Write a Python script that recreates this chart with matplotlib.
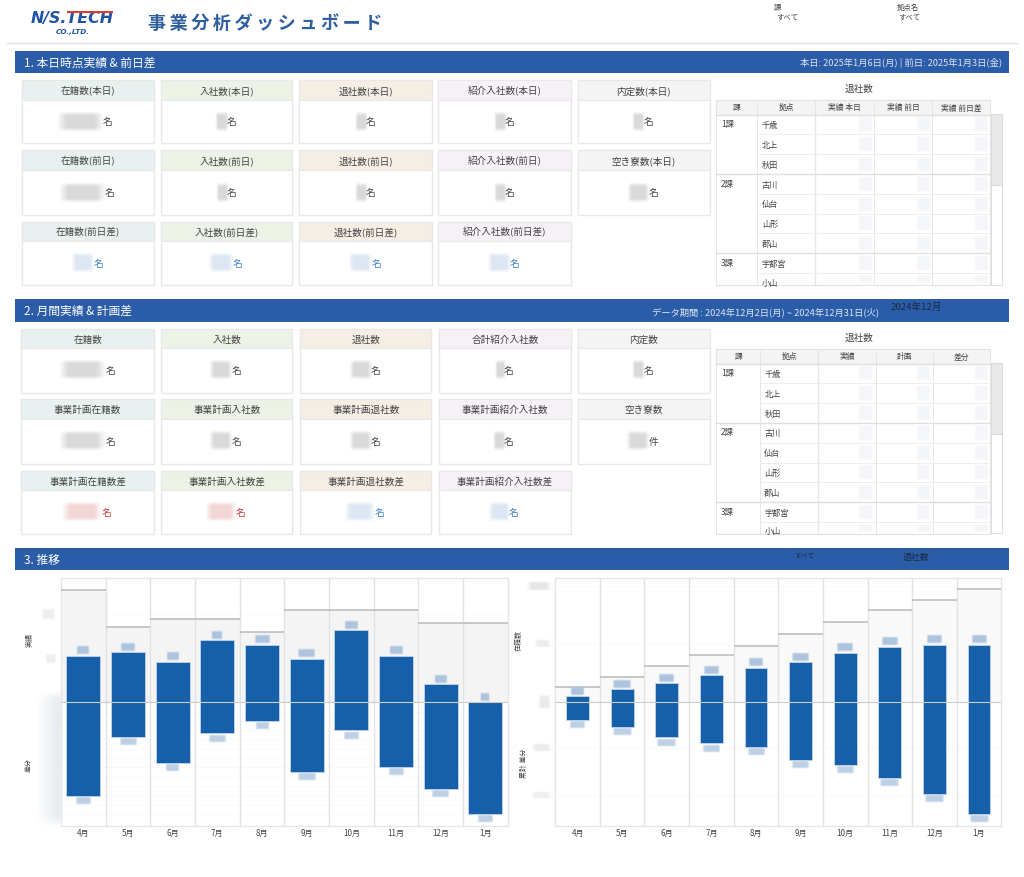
import numpy as np
import matplotlib
matplotlib.use('Agg')
import matplotlib.pyplot as plt
from matplotlib.colors import to_rgb
from matplotlib.patches import Rectangle

plt.rcParams['font.family'] = ['Noto Sans CJK JP', 'DejaVu Sans']

# chart data (the axis labels are blurred, so the unit is arbitrary)
months = ['4月', '5月', '6月', '7月', '8月', '9月', '10月', '11月', '12月', '1月']
left_top = [46.7, 50, 40.7, 62, 57.3, 43.7, 72, 46.7, 18, 0]
left_bottom = [-93.3, -34.7, -60.3, -31, -18.7, -69.3, -28, -64.7, -86.7, -111.7]
left_plan = [112.3, 75, 83.7, 83.7, 70.7, 92.3, 92.3, 92.3, 79.3, 79.3]
right_top = [6, 13, 19, 27, 34.3, 40, 49.3, 55.3, 57.3, 57.3]
right_bottom = [-17.3, -24.3, -35, -41, -44.3, -57.7, -62.7, -75.3, -91.3, -111.7]
right_plan = [15, 25, 36.3, 47.3, 56, 68.3, 80, 92.3, 102.7, 113.3]

left_top_w = [12, 14, 12, 10, 15, 17, 13, 13, 12, 8]
left_bot_w = [15, 17, 13, 17, 13, 18, 15, 15, 17, 15]
right_top_w = [13, 18, 15, 15, 14, 17, 16, 16, 15, 15]
right_bot_w = [15, 19, 19, 17, 17, 17, 17, 19, 19, 19]

# card titles
s1_rows = [
    ['在籍数(本日)', '入社数(本日)', '退社数(本日)', '紹介入社数(本日)', '内定数(本日)'],
    ['在籍数(前日)', '入社数(前日)', '退社数(前日)', '紹介入社数(前日)', '空き寮数(本日)'],
    ['在籍数(前日差)', '入社数(前日差)', '退社数(前日差)', '紹介入社数(前日差)'],
]
s2_rows = [
    ['在籍数', '入社数', '退社数', '合計紹介入社数', '内定数'],
    ['事業計画在籍数', '事業計画入社数', '事業計画退社数', '事業計画紹介入社数', '空き寮数'],
    ['事業計画在籍数差', '事業計画入社数差', '事業計画退社数差', '事業計画紹介入社数差'],
]
groups = ['1課', '2課', '3課']
sites = ['千歳', '北上', '秋田', '古川', '仙台', '山形', '郡山', '宇都宮', '小山']
s1_cols = ['課', '拠点', '実績 本日', '実績 前日', '実績 前日差']
s2_cols = ['課', '拠点', '実績', '計画', '差分']

W, H = 1024, 878
fig = plt.figure(figsize=(W / 100, H / 100), dpi=100, facecolor='white')
page = fig.add_axes([0, 0, 1, 1])
page.set_xlim(0, W)
page.set_ylim(H, 0)
page.axis('off')
page.set_autoscale_on(False)

BAND = '#2b5ca8'
BORDER = '#e8e8e8'
INK = '#444444'
HEADS = ['#e8f1f0', '#edf2e7', '#f5eee5', '#f6f1f6', '#f4f4f4']
GREY_BLUR = '#d9d9d9'
BLUE_BLUR = '#dde7f3'
RED_BLUR = '#f3d6d6'
BLUE_TXT = '#3d7fc4'
RED_TXT = '#c43c3c'


def blur(ax, x0, x1, y0, y1, color, z=3, alpha=1.0, soft=0.22, soft_y=None):
    # soft edged box standing in for a masked number
    n = 24
    t = np.linspace(0, 1, n)
    ramp_x = np.clip(np.minimum(t, 1 - t) / soft, 0, 1)
    ramp_y = np.clip(np.minimum(t, 1 - t) / (soft_y or soft), 0, 1)
    img = np.ones((n, n, 4))
    img[..., :3] = to_rgb(color)
    img[..., 3] = np.outer(ramp_y, ramp_x) * alpha
    ax.imshow(img, extent=(x0, x1, y1, y0), aspect='auto', interpolation='bilinear', zorder=z)


def rect(x0, y0, x1, y1, fc='none', ec='none', lw=0.8, z=1):
    page.add_patch(Rectangle((x0, y0), x1 - x0, y1 - y0, fc=fc, ec=ec, lw=lw, zorder=z))


def band(y0, y1, title):
    rect(14.7, y0, 1009.3, y1, fc=BAND, z=1)
    page.text(24.3, (y0 + y1) / 2 + 3.7, title, color='white', fontsize=8.5, va='baseline', ha='left', zorder=5)


def card(x0, x1, y0, yh, y1, title, head, unit_x, blur_w, blur_h=15, kind='grey', unit='名'):
    rect(x0, y0, x1, y1, fc='white', ec=BORDER, lw=1.0)
    rect(x0, y0, x1, yh, fc=head, ec=BORDER, lw=0.8, z=2)
    # baseline so that titles with brackets sit level with the others
    page.text((x0 + x1) / 2, (y0 + yh) / 2 + 3.2, title, color=INK, fontsize=6.9, ha='center', va='baseline', zorder=5)
    yc = (yh + y1) / 2 - 0.5
    col = {'grey': GREY_BLUR, 'blue': BLUE_BLUR, 'red': RED_BLUR}[kind]
    txt = {'grey': INK, 'blue': BLUE_TXT, 'red': RED_TXT}[kind]
    blur(page, unit_x - 6.5 - blur_w, unit_x - 3.5, yc - blur_h / 2 - 3, yc + blur_h / 2 + 3, col, soft=0.2)
    page.text(unit_x, yc, unit, color=txt, fontsize=7, ha='center', va='center', zorder=5)


# header
page.plot([7, 1017], [44.3, 44.3], color='#e0e0e0', lw=1)
page.text(31, 18.5, 'N/S.TECH', color='#1f55a6', fontsize=11.4, fontweight='bold', style='italic',
          family=['DejaVu Sans'], ha='left', va='center', zorder=4)
page.add_patch(Rectangle((67, 11.5), 46, 2.5, fc='#e2392d', ec='none', zorder=5))
page.text(56, 32, 'CO.,LTD.', color='#1f55a6', fontsize=5.2, fontweight='bold', style='italic',
          family=['DejaVu Sans'], ha='left', va='center')
page.text(148, 23.5, '\u2009'.join('事業分析ダッシュボード'), color='#2f5f9e', fontsize=13, fontweight='bold',
          ha='left', va='center')
page.text(774, 8, '課', color=INK, fontsize=5.3, ha='left', va='center')
page.text(776, 17, 'すべて', color=INK, fontsize=5.3, ha='left', va='center')
page.text(897, 8, '拠点名', color=INK, fontsize=5.3, ha='left', va='center')
page.text(898.5, 17, 'すべて', color=INK, fontsize=5.3, ha='left', va='center')

# section bands
band(51.7, 73.7, '1. 本日時点実績 & 前日差')
band(300.3, 322.7, '2. 月間実績 & 計画差')
band(549.3, 571.3, '3. 推移')
page.text(1001.7, 63, '本日: 2025年1月6日(月) | 前日: 2025年1月3日(金)', color='#dbe5f3', fontsize=6.7,
          ha='right', va='center', zorder=5)
page.text(652, 312, 'データ期間 : 2024年12月2日(月) ~ 2024年12月31日(火)', color='#dbe5f3', fontsize=6.7,
          ha='left', va='center', zorder=5)
page.text(891, 307.7, '2024年12月', color='#1a2a40', fontsize=6.9, ha='left', va='center', zorder=5)
page.text(804, 556, 'すべて', color='#1a2a40', fontsize=4.8, ha='center', va='center', zorder=5)
page.text(916, 557, '退社数', color='#1a2a40', fontsize=6.4, ha='center', va='center', zorder=5)

# section 1 cards
s1_x = [(22.3, 153.7), (161.3, 292.3), (299.3, 432), (438.3, 571), (577.7, 709.7)]
s1_y = [(81.3, 100.7, 144.3), (151.3, 171, 216.3), (222.7, 242, 286.3)]
s1_unit = [[108, 232, 371, 510, 648.5], [110, 232, 371, 510, 653.7], [98.7, 237.7, 376.3, 515]]
s1_blur = [[46, 11, 10, 10, 10], [46, 10, 10, 10, 20], [21, 23, 22, 22]]
for r, row in enumerate(s1_rows):
    for c, title in enumerate(row):
        card(s1_x[c][0], s1_x[c][1], s1_y[r][0], s1_y[r][1], s1_y[r][2], title, HEADS[c],
             s1_unit[r][c], s1_blur[r][c], kind='blue' if r == 2 else 'grey')

# section 2 cards
s2_x = [(21.3, 154), (161.3, 292.3), (300.3, 431.3), (439.3, 570.7), (577.7, 709.7)]
s2_y = [(330, 349, 393.7), (400.3, 420, 464.7), (471.7, 491.3, 535)]
s2_unit = [[110.7, 236.7, 376, 509, 648.3], [110.7, 236.7, 376, 509, 653.3], [106.7, 240.7, 379.3, 514]]
s2_blur = [[46, 21, 21, 8, 10], [46, 21, 21, 10, 21], [39, 29, 29, 20]]
s2_kind = ['red', 'red', 'blue', 'blue']
for r, row in enumerate(s2_rows):
    for c, title in enumerate(row):
        kind = s2_kind[c] if r == 2 else 'grey'
        unit = '件' if title == '空き寮数' else '名'
        card(s2_x[c][0], s2_x[c][1], s2_y[r][0], s2_y[r][1], s2_y[r][2], title, HEADS[c],
             s2_unit[r][c], s2_blur[r][c], kind=kind, unit=unit)


def table(cols_x, rows_y, head_y, title_y, heads, site_x, group_y, bar_x, bar_y, thumb_y, cell_x):
    page.text(859.3, title_y, '退社数', color=INK, fontsize=6.9, ha='center', va='center')
    rect(cols_x[0], head_y, cols_x[-1], rows_y[0], fc='#f4f4f4', ec='#e2e2e2', lw=0.8)
    for i, name in enumerate(heads):
        page.text((cols_x[i] + cols_x[i + 1]) / 2, (head_y + rows_y[0]) / 2, name, color=INK, fontsize=5.6,
                  ha='center', va='center', zorder=5)
    bottom = rows_y[-1]
    for x in cols_x:
        lw = 1.0 if x == cols_x[2] else 0.7
        page.plot([x, x], [head_y, bottom], color='#e6e6e6', lw=lw, zorder=2)
    for i, y in enumerate(rows_y[:-1]):
        major = i in (0, 3, 7)
        page.plot([cols_x[0] if major else cols_x[1], cols_x[-1]], [y, y], color='#e0e0e0' if major else '#eeeeee',
                  lw=1.0 if major else 0.7, zorder=2)
    page.plot([cols_x[0], cols_x[-1]], [bottom, bottom], color='#e2e2e2', lw=0.8, zorder=2)
    for name, y in zip(groups, group_y):
        page.text(cols_x[0] + 5, y, name, color=INK, fontsize=6, ha='left', va='center', zorder=5)
    for i, name in enumerate(sites):
        y = (rows_y[i] + rows_y[i + 1]) / 2 if i < 8 else rows_y[8] + 9
        t = page.text(site_x, y, name, color=INK, fontsize=5.9, ha='left', va='center', zorder=5)
        if i == 8:
            t.set_clip_path(Rectangle((cols_x[0], head_y), cols_x[-1] - cols_x[0], bottom - head_y,
                                      transform=page.transData))
        for cx in cell_x:
            y1 = min(rows_y[i + 1] - 2, bottom)
            blur(page, cx, cx + 14.5, rows_y[i] + 2, y1, '#f5f6f9', soft=0.08)
    rect(bar_x[0], bar_y[0], bar_x[1], bar_y[1], fc='white', ec='#dedede', lw=0.8, z=2)
    rect(bar_x[0], bar_y[0], bar_x[1], thumb_y, fc='#e9e9e9', ec='#dcdcdc', lw=0.8, z=2)


table([716, 757.3, 815.3, 873.7, 932.3, 990.3],
      [115.7, 135.3, 155.3, 175.3, 195, 214.7, 234.3, 254.3, 274.3, 286.3],
      101, 89.3, s1_cols, 761.7, [125, 184.3, 263.3], (991, 1002), (115.3, 286), 185.7,
      [857.7, 916.2, 974.2])
table([716, 760.3, 818.3, 875.7, 932.7, 989.7],
      [364.7, 384.3, 404.3, 424, 443.7, 463.7, 483.3, 503, 523, 535],
      350, 338.3, s2_cols, 764.3, [374, 433, 512.3], (990.5, 1002), (364, 534.3), 434.7,
      [857.7, 916.2, 974.2])


def chart(x0, x1, tops, bots, plans, top_w, bot_w, bar_w, shade, grid):
    y0, y1 = 578.9, 827.3
    ax = fig.add_axes([x0 / W, 1 - y1 / H, (x1 - x0) / W, (y1 - y0) / H])
    ax.set_xlim(-0.5, len(months) - 0.5)
    ax.set_ylim(-124, 124.3)
    ax.set_autoscale_on(False)
    pos = np.arange(len(months))
    ax.bar(pos, plans, width=1.0, color=shade, zorder=1)
    ax.hlines(plans, pos - 0.5, pos + 0.5, color='#b9b9b9', lw=1.1, zorder=3)
    for g in grid:
        ax.axhline(g, color='#f5f5f5', lw=0.6, ls=(0, (3, 2)), zorder=1.5)
    for p in pos[:-1]:
        ax.axvline(p + 0.5, color='#e2e2e2', lw=1.0, zorder=2)
    heights = np.array(tops) - np.array(bots)
    ax.bar(pos, heights, bottom=bots, width=bar_w, color='#1560a9', edgecolor='#cfdcec', lw=0.5, zorder=4)
    ax.axhline(0, color='#cccccc', lw=0.8, zorder=5)
    for p, t, b, tw, bw in zip(pos, tops, bots, top_w, bot_w):
        wt = (tw + 2) / 44.7 / 2
        wb = (bw + 2) / 44.7 / 2
        blur(ax, p - wt, p + wt, t + 0.5, t + 10, '#adc4de', z=6, soft=0.12, soft_y=0.2)
        blur(ax, p - wb, p + wb, b - 9.5, b - 1, '#bdd0e5', z=6, soft=0.12, soft_y=0.2)
    ax.set_xticks(pos)
    ax.set_xticklabels(months, fontsize=5.8, color=INK)
    ax.set_yticks([])
    ax.tick_params(axis='x', length=0, pad=1.5)
    for s in ax.spines.values():
        s.set_color('#e6e6e6')
        s.set_linewidth(1.0)
    return ax


# masked axis labels and axis titles, under the chart axes
for x0, x1, y0, y1, c in [(41, 56, 609, 621, '#eeeeee'), (45, 56.5, 654, 665, '#eeeeee'),
                          (526, 552, 582, 592, '#e6e6e6'), (534, 551, 640, 649, '#ececec'),
                          (538, 551, 695, 711, '#eaeaea'), (531, 552, 744, 753, '#ececec'),
                          (530, 552, 792, 800, '#f0f0f0')]:
    blur(page, x0, x1, y0, y1, c, soft=0.2)
blur(page, 36, 78, 689, 830, '#e8ebef', soft=0.5, soft_y=0.06)
page.text(30, 640, '実績', color=INK, fontsize=5, rotation=90, ha='center', va='center')
page.text(30, 765, '差分', color=INK, fontsize=5, rotation=90, ha='center', va='center')
page.text(519, 640.5, '在籍数', color=INK, fontsize=5, rotation=90, ha='center', va='center')
page.text(524, 763, '累計 差分', color=INK, fontsize=5, rotation=90, ha='center', va='center')

left_grid = [88, 44] + [-9.3 * i for i in range(1, 13)]
right_grid = [116, 58, -46, -93]
chart(61, 507.7, left_top, left_bottom, left_plan, left_top_w, left_bot_w, 0.76, '#f4f4f4', left_grid)
chart(555.3, 1001.3, right_top, right_bottom, right_plan, right_top_w, right_bot_w, 0.51, '#f9f9f9', right_grid)

fig.savefig('out.png', dpi=100)
